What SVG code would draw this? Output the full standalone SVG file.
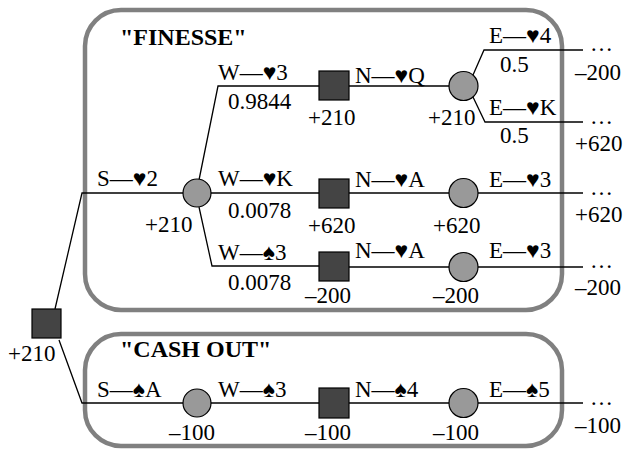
<svg xmlns="http://www.w3.org/2000/svg" width="626" height="449" viewBox="0 0 626 449">
<rect width="626" height="449" fill="#ffffff"/>
<g id="boxes" fill="none" stroke="#808080" stroke-width="4.5">
<rect id="finesse-box" x="85" y="10" width="477" height="300" rx="36" ry="36"/>
<rect id="cashout-box" x="85" y="334" width="477" height="112" rx="36" ry="36"/>
</g>
<g id="connectors" fill="none" stroke="#000" stroke-width="1.3">
<path d="M55,309 L82,193 L183,193"/>
<path d="M59,340 L82,403 L183,403"/>
<path d="M199,180 L218,86 L319,86"/>
<path d="M211,193 L319,193"/>
<path d="M199,207 L212,266 L319,266"/>
<path d="M211,403 L319,403"/>
<path d="M349,86 L449,86"/>
<path d="M349,193 L449,193"/>
<path d="M349,267 L449,267"/>
<path d="M349,403 L449,403"/>
<path d="M473,75 L484,50 L583,50"/>
<path d="M473,97 L485,122 L583,122"/>
<path d="M478,193 L583,193"/>
<path d="M478,267 L583,267"/>
<path d="M478,403 L583,403"/>
</g>
<g id="nodes" stroke-width="1.2">
<g id="root"><rect fill="#444" stroke="#000" x="32" y="309" width="29" height="29"/><text style="font-family:'Liberation Serif',serif;font-size:23px" x="8" y="361">+210</text></g>
<g id="c1"><circle fill="#999" stroke="#000" cx="197" cy="193" r="14"/><text style="font-family:'Liberation Serif',serif;font-size:23px" x="145" y="232">+210</text></g>
<g id="s1"><rect fill="#444" stroke="#000" x="319" y="71" width="30" height="29"/><text style="font-family:'Liberation Serif',serif;font-size:23px" x="308" y="125">+210</text></g>
<g id="s2"><rect fill="#444" stroke="#000" x="319" y="179" width="30" height="29"/><text style="font-family:'Liberation Serif',serif;font-size:23px" x="308" y="233">+620</text></g>
<g id="s3"><rect fill="#444" stroke="#000" x="319" y="252" width="30" height="29"/><text style="font-family:'Liberation Serif',serif;font-size:23px" x="305" y="303">–200</text></g>
<g id="c2"><circle fill="#999" stroke="#000" cx="463.5" cy="86" r="14.5"/><text style="font-family:'Liberation Serif',serif;font-size:23px" x="428" y="125">+210</text></g>
<g id="c3"><circle fill="#999" stroke="#000" cx="463.5" cy="193" r="14.5"/><text style="font-family:'Liberation Serif',serif;font-size:23px" x="433" y="233">+620</text></g>
<g id="c4"><circle fill="#999" stroke="#000" cx="463.5" cy="267" r="14.5"/><text style="font-family:'Liberation Serif',serif;font-size:23px" x="433" y="303">–200</text></g>
<g id="c5"><circle fill="#999" stroke="#000" cx="197" cy="403" r="14"/><text style="font-family:'Liberation Serif',serif;font-size:23px" x="169" y="440">–100</text></g>
<g id="s4"><rect fill="#444" stroke="#000" x="319" y="388" width="30" height="30"/><text style="font-family:'Liberation Serif',serif;font-size:23px" x="305" y="440">–100</text></g>
<g id="c6"><circle fill="#999" stroke="#000" cx="463.5" cy="403" r="14.5"/><text style="font-family:'Liberation Serif',serif;font-size:23px" x="433" y="440">–100</text></g>
</g>
<g id="labels">
<text style="font-family:'Liberation Serif',serif;font-size:24px;font-weight:bold" x="120" y="45">"FINESSE"</text>
<text style="font-family:'Liberation Serif',serif;font-size:24px;font-weight:bold" x="120" y="357">"CASH OUT"</text>
<text style="font-family:'Liberation Serif',serif;font-size:23px" x="97" y="186">S—♥2</text>
<text style="font-family:'Liberation Serif',serif;font-size:23px" x="218" y="80">W—♥3</text>
<text style="font-family:'Liberation Serif',serif;font-size:23px" x="228" y="109">0.9844</text>
<text style="font-family:'Liberation Serif',serif;font-size:23px" x="218" y="186">W—♥K</text>
<text style="font-family:'Liberation Serif',serif;font-size:23px" x="228" y="218">0.0078</text>
<text style="font-family:'Liberation Serif',serif;font-size:23px" x="218" y="260">W—♠3</text>
<text style="font-family:'Liberation Serif',serif;font-size:23px" x="228" y="290">0.0078</text>
<text style="font-family:'Liberation Serif',serif;font-size:23px" x="355" y="83">N—♥Q</text>
<text style="font-family:'Liberation Serif',serif;font-size:23px" x="355" y="187">N—♥A</text>
<text style="font-family:'Liberation Serif',serif;font-size:23px" x="355" y="258">N—♥A</text>
<text style="font-family:'Liberation Serif',serif;font-size:23px" x="489" y="43">E—♥4</text>
<text style="font-family:'Liberation Serif',serif;font-size:23px" x="500" y="72">0.5</text>
<text style="font-family:'Liberation Serif',serif;font-size:23px" x="489" y="115">E—♥K</text>
<text style="font-family:'Liberation Serif',serif;font-size:23px" x="500" y="143">0.5</text>
<text style="font-family:'Liberation Serif',serif;font-size:23px" x="489" y="187">E—♥3</text>
<text style="font-family:'Liberation Serif',serif;font-size:23px" x="489" y="258">E—♥3</text>
<text style="font-family:'Liberation Serif',serif;font-size:23px" x="97" y="397">S—♠A</text>
<text style="font-family:'Liberation Serif',serif;font-size:23px" x="218" y="397">W—♠3</text>
<text style="font-family:'Liberation Serif',serif;font-size:23px" x="355" y="397">N—♠4</text>
<text style="font-family:'Liberation Serif',serif;font-size:23px" x="489" y="397">E—♠5</text>
<text style="font-family:'Liberation Serif',serif;font-size:23px" x="590" y="51">…</text>
<text style="font-family:'Liberation Serif',serif;font-size:23px" x="575" y="80">–200</text>
<text style="font-family:'Liberation Serif',serif;font-size:23px" x="590" y="124">…</text>
<text style="font-family:'Liberation Serif',serif;font-size:23px" x="575" y="151">+620</text>
<text style="font-family:'Liberation Serif',serif;font-size:23px" x="590" y="195">…</text>
<text style="font-family:'Liberation Serif',serif;font-size:23px" x="575" y="222">+620</text>
<text style="font-family:'Liberation Serif',serif;font-size:23px" x="590" y="268">…</text>
<text style="font-family:'Liberation Serif',serif;font-size:23px" x="575" y="295">–200</text>
<text style="font-family:'Liberation Serif',serif;font-size:23px" x="590" y="405">…</text>
<text style="font-family:'Liberation Serif',serif;font-size:23px" x="575" y="433">–100</text>
</g>
</svg>
